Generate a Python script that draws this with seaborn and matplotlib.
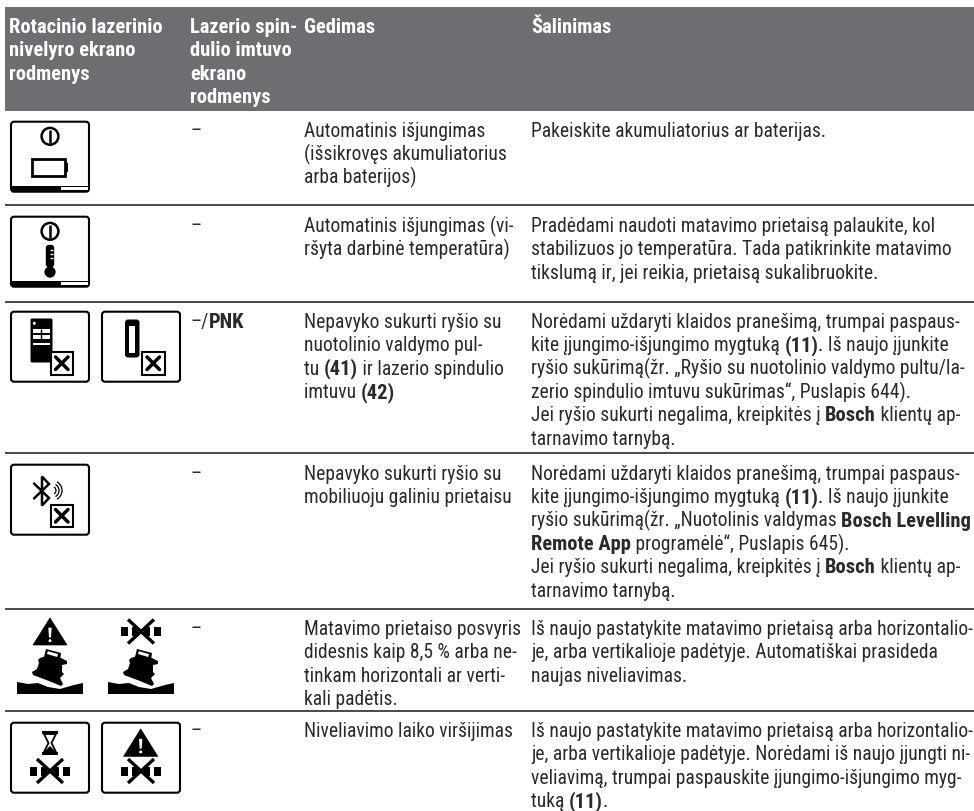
import numpy as np
import matplotlib
matplotlib.use("Agg")
import matplotlib.pyplot as plt
from matplotlib.patches import Rectangle, FancyBboxPatch, Polygon, Circle, Arc
import seaborn as sns

# ---------- content ----------
HEADERS = [
    ["Rotacinio lazerinio", "nivelyro ekrano", "rodmenys"],
    ["Lazerio spin-", "dulio imtuvo", "ekrano", "rodmenys"],
    ["Gedimas"],
    ["Šalinimas"],
]
RECEIVER = ["–", "–", "–/**PNK**", "–", "–", "–"]
FAULTS = [
    ["Automatinis išjungimas", "(išsikrovęs akumuliatorius", "arba baterijos)"],
    ["Automatinis išjungimas (vi-", "ršyta darbinė temperatūra)"],
    ["Nepavyko sukurti ryšio su", "nuotolinio valdymo pul-", "tu **(41)** ir lazerio spindulio", "imtuvu **(42)**"],
    ["Nepavyko sukurti ryšio su", "mobiliuoju galiniu prietaisu"],
    ["Matavimo prietaiso posvyris", "didesnis kaip 8,5 % arba ne-", "tinkam horizontali ar verti-", "kali padėtis."],
    ["Niveliavimo laiko viršijimas"],
]
REMEDIES = [
    ["Pakeiskite akumuliatorius ar baterijas."],
    ["Pradėdami naudoti matavimo prietaisą palaukite, kol",
     "stabilizuos jo temperatūra. Tada patikrinkite matavimo",
     "tikslumą ir, jei reikia, prietaisą sukalibruokite."],
    ["Norėdami uždaryti klaidos pranešimą, trumpai paspaus-",
     "kite įjungimo-išjungimo mygtuką **(11)**. Iš naujo įjunkite",
     "ryšio sukūrimą(žr. „Ryšio su nuotolinio valdymo pultu/la-",
     "zerio spindulio imtuvu sukūrimas“, Puslapis 644).",
     "Jei ryšio sukurti negalima, kreipkitės į **Bosch** klientų ap-",
     "tarnavimo tarnybą."],
    ["Norėdami uždaryti klaidos pranešimą, trumpai paspaus-",
     "kite įjungimo-išjungimo mygtuką **(11)**. Iš naujo įjunkite",
     "ryšio sukūrimą(žr. „Nuotolinis valdymas **Bosch Levelling**",
     "**Remote App** programėlė“, Puslapis 645).",
     "Jei ryšio sukurti negalima, kreipkitės į **Bosch** klientų ap-",
     "tarnavimo tarnybą."],
    ["Iš naujo pastatykite matavimo prietaisą arba horizontalio-",
     "je, arba vertikalioje padėtyje. Automatiškai prasideda",
     "naujas niveliavimas."],
    ["Iš naujo pastatykite matavimo prietaisą arba horizontalio-",
     "je, arba vertikalioje padėtyje. Norėdami iš naujo įjungti ni-",
     "veliavimą, trumpai paspauskite įjungimo-išjungimo myg-",
     "tuką **(11)**."],
]

# ---------- layout ----------
W, H = 974, 812
BAND = (5, 8, 112)
RULES = [206, 303, 454, 610, 712]
ROW_BASE = [137, 232, 328, 480, 635, 737]
COLS = [9, 190, 304, 531]
LEAD = 23.35
FS = {"normal": 14.05, "bold": 14.8}
FAMILY = ["Roboto Condensed", "Roboto", "DejaVu Sans"]
INK = "#2a2a2c"
GREY = "#6d6e71"

sns.set_theme(style="white")
plt.rcParams["font.family"] = FAMILY
fig = plt.figure(figsize=(W / 100, H / 100), dpi=100)
ax = fig.add_axes([0, 0, 1, 1])
ax.set_xlim(0, W)
ax.set_ylim(H, 0)
ax.set_axis_off()
sns.despine(ax=ax, left=True, bottom=True)
rend = fig.canvas.get_renderer()

# ---------- text ----------
def seg_width(s, weight):
    probe = "x" + s + "x"
    t = ax.text(0, 0, probe, fontsize=FS[weight], weight=weight)
    w1 = t.get_window_extent(rend).width
    t.set_text("xx")
    w2 = t.get_window_extent(rend).width
    t.remove()
    return w1 - w2

def rich(x, y, line, color=INK, base="normal"):
    parts = line.split("**")
    for i, seg in enumerate(parts):
        if not seg:
            continue
        wt = "bold" if i % 2 else base
        ax.text(x, y, seg, fontsize=FS[wt], weight=wt, color=color, va="baseline", ha="left")
        x += seg_width(seg, wt)

ax.add_patch(Rectangle((BAND[0], BAND[1]), W - BAND[0], BAND[2] - BAND[1], fc=GREY, ec="none"))
for cx, lines in zip(COLS, HEADERS):
    for k, l in enumerate(lines):
        rich(cx, 33 + k * LEAD, l, color="white", base="bold")
for i, b in enumerate(ROW_BASE):
    rich(COLS[1], b, RECEIVER[i])
    for k, l in enumerate(FAULTS[i]):
        rich(COLS[2], b + k * LEAD, l)
    for k, l in enumerate(REMEDIES[i]):
        rich(COLS[3], b + k * LEAD, l)
ax.hlines(RULES, BAND[0], W, color="#3c3c3e", lw=1.3)

# ---------- icons ----------
K = "black"
def box(x, y, w=78, h=70):
    ax.add_patch(FancyBboxPatch((x + 2, y + 2), w - 4, h - 4, boxstyle="round,pad=2,rounding_size=3",
                                fc="white", ec=K, lw=1.5))
def statusbar(x, y):
    ax.add_patch(Rectangle((x + 0.5, y + 64), 77, 6, fc=K, ec="none"))
    ax.add_patch(Rectangle((x + 50, y + 65.2), 26.5, 2.6, fc="white", ec="none"))
def power(x, y):
    ax.add_patch(Circle((x + 39, y + 14.6), 8.4, fc="none", ec=K, lw=1.8))
    ax.plot([x + 39, x + 39], [y + 8, y + 21], color=K, lw=1.8, solid_capstyle="butt")
def xbox(x, y):
    ax.add_patch(Rectangle((x, y), 22.5, 22.5, fc="white", ec=K, lw=1.5))
    ax.plot([x + 5, x + 17.5], [y + 5, y + 17.5], color=K, lw=2.5)
    ax.plot([x + 5, x + 17.5], [y + 17.5, y + 5], color=K, lw=2.5)
def triangle(cx, top, bot, hw, inner=True):
    ax.add_patch(Polygon([(cx, top), (cx - hw, bot), (cx + hw, bot)], closed=True, fc=K, ec=K, lw=0.5, joinstyle="round"))
    h = bot - top
    ax.add_patch(Polygon([(cx - 1.7, top + 0.36 * h), (cx + 1.7, top + 0.36 * h), (cx + 1, top + 0.72 * h), (cx - 1, top + 0.72 * h)],
                         closed=True, fc="white", ec="none"))
    ax.add_patch(Circle((cx, top + 0.84 * h), 1.5, fc="white", ec="none"))
def crossed(cx, cy):
    for a, b in [(-20, -13), (-9, -3), (3, 9), (13, 20)]:
        ax.add_patch(Rectangle((cx + a, cy - 4.5), b - a, 9, fc=K, ec="none"))
    ax.plot([cx - 13, cx + 13], [cy - 12, cy + 12], color=K, lw=2.4, solid_capstyle="butt")
    ax.plot([cx - 13, cx + 13], [cy + 12, cy - 12], color=K, lw=2.4, solid_capstyle="butt")
def tilted(cx, top):
    body = [(-10, 9), (-1, 6), (11, 9), (17, 12), (17, 15), (12, 16), (12, 23), (14, 25), (10, 29), (13, 35), (11, 37),
            (-1, 32), (-17, 26), (-18, 23), (-13, 20), (-11, 14), (-12, 11)]
    ax.add_patch(Polygon([(cx + a, top + b) for a, b in body], closed=True, fc=K, ec="none"))
    handle = [(-6, 8), (-4, 0), (11, 4), (10, 11)]
    ax.add_patch(Polygon([(cx + a, top + b) for a, b in handle], closed=True, fc=K, ec="none"))
    inner = [(-3, 5), (-2.2, 2.2), (8, 5), (7.2, 8)]
    ax.add_patch(Polygon([(cx + a, top + b) for a, b in inner], closed=True, fc="white", ec="none"))
    ground = [(-33, 33), (-22, 35), (-12, 34), (-2, 38), (10, 40), (24, 36), (33, 34), (33, 45), (-33, 45)]
    ax.add_patch(Polygon([(cx + a, top + b) for a, b in ground], closed=True, fc=K, ec="none"))

# row 1
box(11, 122.7); statusbar(11, 122.7); power(11, 122.7)
ax.add_patch(Rectangle((32, 160), 33, 17, fc="white", ec=K, lw=2))
ax.add_patch(Rectangle((65, 164), 2.5, 9, fc=K, ec="none"))
# row 2
box(11, 217.7); statusbar(11, 217.7); power(11, 217.7)
ax.add_patch(FancyBboxPatch((47, 247), 6, 20, boxstyle="round,pad=0.5,rounding_size=2.5", fc=K, ec=K, lw=1))
ax.add_patch(Circle((50, 273), 5.6, fc=K, ec="none"))
ax.hlines([251, 255, 259], 50, 52.5, color="white", lw=1)
# row 3
box(11, 312.7)
ax.add_patch(FancyBboxPatch((31, 320), 21, 43, boxstyle="round,pad=0.5,rounding_size=1.5", fc=K, ec="none"))
ax.add_patch(Circle((34.3, 324.3), 1.5, fc="white", ec="none"))
for y, hh in [(330, 4), (336, 4), (343.5, 2.5)]:
    ax.add_patch(Rectangle((33, y), 16.5, hh, fc="white", ec="none"))
ax.vlines(41.3, 330, 340, color=K, lw=1)
xbox(50.5, 353)
box(102, 312.7)
ax.add_patch(FancyBboxPatch((126, 321.5), 12.5, 36, boxstyle="round,pad=1,rounding_size=3", fc=K, ec="none"))
ax.add_patch(Rectangle((129, 327), 6.2, 27, fc="white", ec="none"))
xbox(142, 353)
# row 4
box(11, 465.7)
bx = 42; by0 = 477.5; by1 = 506.5
ax.plot([bx - 8, bx + 7, bx, bx, bx + 7, bx - 8], [by0 + 7, by1 - 7.5, by1, by0, by0 + 7.5, by1 - 7],
        color=K, lw=1.8, solid_joinstyle="miter")
for r in (4, 7, 10):
    ax.add_patch(Arc((52, 491.5), 2 * r, 2 * r, theta1=-60, theta2=60, ec=K, lw=0.9))
xbox(50.5, 505.5)
# row 5
triangle(50, 619, 646, 17)
tilted(50, 650)
crossed(141, 632.5)
tilted(141, 650)
# row 6
box(11, 723.7)
ax.add_patch(Rectangle((42, 732), 16, 2.6, fc=K, ec="none"))
ax.add_patch(Polygon([(44, 735), (56, 735), (51.5, 744), (56, 753), (44, 753), (48.5, 744)], closed=True, fc="white", ec=K, lw=1.3))
ax.add_patch(Polygon([(44, 753), (50, 747), (56, 753)], closed=True, fc=K, ec="none"))
ax.add_patch(Rectangle((42, 753), 16, 3, fc=K, ec="none"))
crossed(50, 772)
box(102, 723.7)
triangle(140.7, 730, 757.3, 17)
crossed(141, 772)

fig.savefig("out.png", dpi=100)
